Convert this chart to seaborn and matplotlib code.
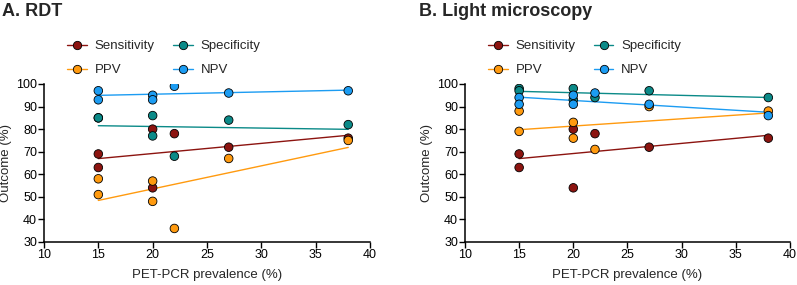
import matplotlib

matplotlib.use("Agg")
import matplotlib.pyplot as plt
import pandas as pd
import seaborn as sns
from matplotlib.lines import Line2D

sns.set_theme(style="ticks")
plt.rcParams["font.family"] = ["Liberation Sans", "DejaVu Sans"]

# PET-PCR prevalence (%) of each study site
prevalence = [15, 15, 20, 20, 22, 27, 38]

# A. RDT
rdt_sensitivity = [69, 63, 80, 54, 78, 72, 76]
rdt_specificity = [85, 85, 86, 77, 68, 84, 82]
rdt_ppv = [58, 51, 57, 48, 36, 67, 75]
rdt_npv = [97, 93, 95, 93, 99, 96, 97]

# B. Light microscopy
lm_sensitivity = [69, 63, 80, 54, 78, 72, 76]
lm_specificity = [98, 97, 98, 93, 94, 97, 94]
lm_ppv = [88, 79, 83, 76, 71, 90, 88]
lm_npv = [94, 91, 95, 91, 96, 91, 86]

metrics = ["Sensitivity", "Specificity", "PPV", "NPV"]
colors = {
    "Sensitivity": "#8c1410",
    "Specificity": "#0b8a88",
    "PPV": "#ff9a0f",
    "NPV": "#1c9cf2",
}
# legend order: row 1 Sensitivity / Specificity, row 2 PPV / NPV
legend_order = ["Sensitivity", "PPV", "Specificity", "NPV"]

panels = [
    ("A. RDT", [rdt_sensitivity, rdt_specificity, rdt_ppv, rdt_npv]),
    ("B. Light microscopy", [lm_sensitivity, lm_specificity, lm_ppv, lm_npv]),
]

fig = plt.figure(figsize=(7.97, 2.85), dpi=100)
axes = [
    fig.add_axes([0.0552, 0.1509, 0.409, 0.5544]),
    fig.add_axes([0.5834, 0.1509, 0.4078, 0.5544]),
]
title_x = [0.003, 0.526]

for ax, tx, (title, series) in zip(axes, title_x, panels):
    df = pd.DataFrame(
        {
            "prevalence": prevalence * 4,
            "outcome": sum(series, []),
            "metric": [m for m in metrics for _ in prevalence],
        }
    )
    for m in metrics:
        sub = df[df["metric"] == m]
        sns.regplot(
            data=sub,
            x="prevalence",
            y="outcome",
            ci=None,
            scatter=False,
            color=colors[m],
            line_kws={"linewidth": 1.0},
            ax=ax,
        )
    sns.scatterplot(
        data=df,
        x="prevalence",
        y="outcome",
        hue="metric",
        palette=colors,
        s=38,
        edgecolor="black",
        linewidth=0.6,
        legend=False,
        zorder=3,
        ax=ax,
    )

    ax.set_xlim(10, 40)
    ax.set_ylim(30, 100)
    ax.set_xticks(range(10, 41, 5))
    ax.set_yticks(range(30, 101, 10))
    ax.set_xlabel("PET-PCR prevalence (%)", fontsize=9.5, labelpad=6)
    ax.set_ylabel("Outcome (%)", fontsize=9.5, labelpad=3)
    ax.tick_params(labelsize=9, length=4, width=1, pad=1, colors="black")
    for side in ["left", "bottom"]:
        ax.spines[side].set_linewidth(1.1)
        ax.spines[side].set_color("black")
    sns.despine(ax=ax)
    for sp in ax.spines.values():
        sp.set_clip_on(False)

    handles = [
        Line2D(
            [0],
            [0],
            color=colors[m],
            linewidth=1.0,
            marker="o",
            markersize=6,
            markerfacecolor=colors[m],
            markeredgecolor="black",
            markeredgewidth=0.6,
        )
        for m in legend_order
    ]
    ax.legend(
        handles,
        legend_order,
        ncol=2,
        frameon=False,
        fontsize=9.5,
        loc="lower left",
        bbox_to_anchor=(0.055, 1.014),
        handlelength=1.5,
        handletextpad=0.6,
        columnspacing=1.35,
        labelspacing=0.9,
        borderaxespad=0,
    )

    fig.text(tx, 0.945, title, fontsize=13, fontweight="bold", ha="left", va="baseline")

fig.savefig("out.png", dpi=100)
